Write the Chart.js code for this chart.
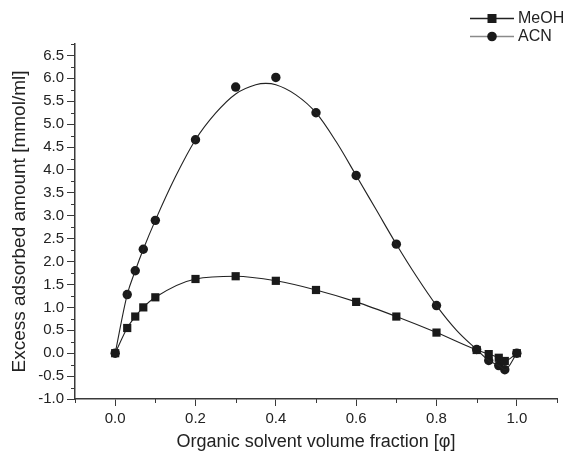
<!DOCTYPE html>
<html>
<head>
<meta charset="utf-8">
<script src="https://cdn.jsdelivr.net/npm/chart.js@4.4.0/dist/chart.umd.min.js"></script>
<style>
  html, body { margin: 0; padding: 0; background: #fff; }
  #wrap { width: 565px; height: 453px; }
</style>
</head>
<body>
<div id="wrap"><canvas id="chart"></canvas></div>
<script>
// volume fractions of organic solvent
const phi = [0, 0.03, 0.05, 0.07, 0.1, 0.2, 0.3, 0.4, 0.5, 0.6, 0.7, 0.8, 0.9, 0.93, 0.955, 0.97, 1.0];
const meohValues = [0, 0.55, 0.8, 1.0, 1.22, 1.62, 1.68, 1.58, 1.38, 1.12, 0.8, 0.45, 0.07, -0.02, -0.1, -0.17, 0];
const acnValues = [0, 1.28, 1.8, 2.27, 2.9, 4.66, 5.81, 6.02, 5.25, 3.88, 2.38, 1.04, 0.08, -0.16, -0.27, -0.36, 0];
// fitted ACN curve
const acnFitPhi = [0, 0.03, 0.05, 0.07, 0.1, 0.15, 0.2, 0.25, 0.3, 0.35, 0.375, 0.4, 0.45, 0.5, 0.55, 0.6, 0.65, 0.7, 0.75, 0.8, 0.85, 0.9, 0.93, 0.955, 0.97, 1.0];
const acnFitValues = [0, 1.28, 1.8, 2.27, 2.9, 3.85, 4.66, 5.24, 5.66, 5.86, 5.89, 5.86, 5.64, 5.25, 4.62, 3.88, 3.13, 2.38, 1.68, 1.04, 0.5, 0.08, -0.16, -0.27, -0.36, 0];
const xTickLabels = ['0.0', '0.2', '0.4', '0.6', '0.8', '1.0'];
const yTickLabels = ['-1.0', '-0.5', '0.0', '0.5', '1.0', '1.5', '2.0', '2.5', '3.0', '3.5', '4.0', '4.5', '5.0', '5.5', '6.0', '6.5'];

const FONT = 'Liberation Sans, Arial, sans-serif';
const AXIS = '#3a3a3a';

const pts = (xs, ys) => xs.map((x, i) => ({ x: x, y: ys[i] }));

function isMajor(v, step) {
    const n = Math.round(v / step);
    return Math.abs(v - n * step) < 1e-6;
}

// draws the short minor ticks between the labelled ones
const minorTicks = {
    id: 'minorTicks',
    afterDraw(chart) {
        const { ctx, scales } = chart;
        ctx.save();
        ctx.strokeStyle = AXIS;
        ctx.lineWidth = 1;
        const xs = scales.x, ys = scales.y;
        xs.ticks.forEach(t => {
            if (isMajor(t.value, 0.2) && t.value > -0.05 && t.value < 1.05) return;
            const px = Math.round(xs.getPixelForValue(t.value)) + 0.5;
            ctx.beginPath();
            ctx.moveTo(px, ys.bottom);
            ctx.lineTo(px, ys.bottom + 4);
            ctx.stroke();
        });
        ys.ticks.forEach(t => {
            if (isMajor(t.value, 0.5) && t.value < 6.6) return;
            const py = Math.round(ys.getPixelForValue(t.value)) + 0.5;
            ctx.beginPath();
            ctx.moveTo(xs.left, py);
            ctx.lineTo(xs.left - 4, py);
            ctx.stroke();
        });
        ctx.restore();
    }
};

// legend in the top right corner
const cornerLegend = {
    id: 'cornerLegend',
    afterDraw(chart) {
        const { ctx } = chart;
        const items = [
            { label: 'MeOH', y: 18, line: '#222', style: 'rect' },
            { label: 'ACN', y: 36, line: '#8a8a8a', style: 'circle' }
        ];
        ctx.save();
        items.forEach(it => {
            ctx.strokeStyle = it.line;
            ctx.lineWidth = 1.3;
            ctx.beginPath();
            ctx.moveTo(470, it.y + 0.5);
            ctx.lineTo(514, it.y + 0.5);
            ctx.stroke();
            ctx.fillStyle = '#1a1a1a';
            ctx.beginPath();
            if (it.style === 'rect') {
                ctx.rect(487.5, it.y - 4, 9, 9);
            } else {
                ctx.arc(492, it.y + 0.5, 4.8, 0, 2 * Math.PI);
            }
            ctx.fill();
            ctx.fillStyle = '#222';
            ctx.font = '16px ' + FONT;
            ctx.textAlign = 'left';
            ctx.textBaseline = 'middle';
            ctx.fillText(it.label, 518, it.y + 1);
        });
        ctx.restore();
    }
};

new Chart(document.getElementById('chart'), {
    type: 'scatter',
    plugins: [minorTicks, cornerLegend],
    data: {
        datasets: [{
            label: 'MeOH',
            data: pts(phi, meohValues),
            showLine: true,
            borderColor: '#222',
            borderWidth: 1.1,
            cubicInterpolationMode: 'monotone',
            pointStyle: 'rect',
            pointRadius: 5.8,
            pointBackgroundColor: '#1a1a1a',
            pointBorderWidth: 0
        }, {
            label: 'ACN fit',
            data: pts(acnFitPhi, acnFitValues),
            showLine: true,
            borderColor: '#222',
            borderWidth: 1.1,
            cubicInterpolationMode: 'monotone',
            pointRadius: 0
        }, {
            label: 'ACN',
            data: pts(phi, acnValues),
            showLine: false,
            pointStyle: 'circle',
            pointRadius: 4.7,
            pointBackgroundColor: '#1a1a1a',
            pointBorderWidth: 0
        }]
    },
    options: {
        responsive: true,
        maintainAspectRatio: false,
        animation: false,
        layout: {
            padding: { top: 44, right: 8, left: 0, bottom: 0 }
        },
        plugins: {
            legend: { display: false },
            tooltip: { enabled: false }
        },
        scales: {
            x: {
                type: 'linear',
                min: -0.1,
                max: 1.1,
                afterFit: s => { s.height = 54; },
                ticks: {
                    stepSize: 0.1,
                    autoSkip: false,
                    maxRotation: 0,
                    padding: 4,
                    color: '#222',
                    font: { family: FONT, size: 15 },
                    callback: v => {
                        if (!isMajor(v, 0.2) || v < -0.05 || v > 1.05) return '';
                        return xTickLabels[Math.round(v / 0.2)];
                    }
                },
                grid: {
                    drawOnChartArea: false,
                    tickLength: 7,
                    tickColor: c => (isMajor(c.tick.value, 0.2) && c.tick.value > -0.05 && c.tick.value < 1.05) ? AXIS : 'rgba(0,0,0,0)'
                },
                border: { color: AXIS, width: 1.5 },
                title: {
                    display: true,
                    text: 'Organic solvent volume fraction [\u03c6]',
                    color: '#222',
                    font: { family: FONT, size: 18 },
                    padding: { top: 5, bottom: 0 }
                }
            },
            y: {
                min: -1,
                max: 6.75,
                afterFit: s => { s.width = 75; },
                ticks: {
                    stepSize: 0.25,
                    autoSkip: false,
                    padding: 3,
                    color: '#222',
                    font: { family: FONT, size: 15 },
                    callback: v => {
                        if (!isMajor(v, 0.5) || v > 6.6) return '';
                        return yTickLabels[Math.round((v + 1) / 0.5)];
                    }
                },
                grid: {
                    drawOnChartArea: false,
                    tickLength: 8,
                    tickColor: c => (isMajor(c.tick.value, 0.5) && c.tick.value < 6.6) ? AXIS : 'rgba(0,0,0,0)'
                },
                border: { color: AXIS, width: 1.5 },
                title: {
                    display: true,
                    text: 'Excess adsorbed amount [mmol/ml]',
                    color: '#222',
                    font: { family: FONT, size: 19 },
                    padding: { top: 8, bottom: 2 }
                }
            }
        }
    }
});
</script>
</body>
</html>
